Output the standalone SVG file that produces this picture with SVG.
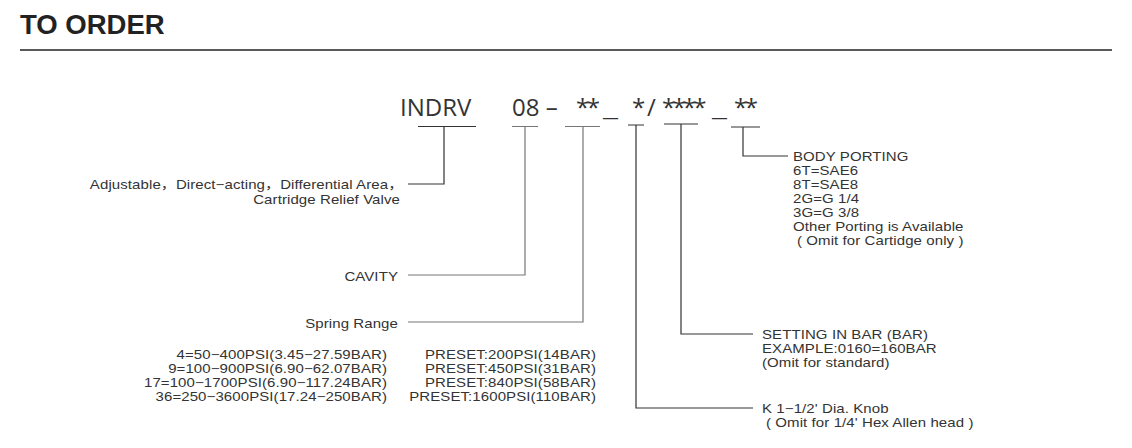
<svg xmlns="http://www.w3.org/2000/svg" width="1132" height="448" viewBox="0 0 1132 448">
<style>
.t{font-family:"Liberation Sans","Noto Sans CJK SC",Arial,sans-serif;font-size:12.5px;letter-spacing:0.08px;fill:#333}
.e{text-anchor:end}
.h{font-family:"Open Sans","Noto Sans",sans-serif;font-size:24px;fill:#333}
.ln{fill:none;stroke:#333;stroke-width:1.2}
.lg{fill:none;stroke:#777;stroke-width:1.2}
</style>
<rect width="1132" height="448" fill="#fff"/>
<g id="title">
<text x="20" y="34" font-family="Liberation Sans, Arial, sans-serif" font-weight="bold" font-size="27.5" fill="#222">TO ORDER</text>
<path d="M20 50H1112" stroke="#222" stroke-width="1.4" fill="none"/>
</g>
<g id="code">
<text class="h" x="400" y="116">INDRV</text>
<text class="h" x="512" y="116">08 –</text>
<text class="h" x="576" y="116" letter-spacing="-2.5">**</text>
<text class="h" x="603" y="116" textLength="15" lengthAdjust="spacingAndGlyphs">_</text>
<text class="h" x="632" y="116">*</text>
<text class="h" x="647" y="116">/</text>
<text class="h" x="662" y="116" letter-spacing="-2.8">****</text>
<text class="h" x="712" y="116" textLength="15" lengthAdjust="spacingAndGlyphs">_</text>
<text class="h" x="734" y="116" letter-spacing="-2.5">**</text>
</g>
<g id="connectors">
<path class="ln" d="M418 126.5H476M444 126.5V184H408"/>
<path class="lg" d="M512 126.5H538M525 126.5V275H408"/>
<path class="lg" d="M565 126.5H600M583 126.5V322H408"/>
<path class="ln" d="M628 125H644M636 125V408H753"/>
<path class="ln" d="M664 124H698M681 124V334H753"/>
<path class="ln" d="M731 127H760M743 127V156H788"/>
</g>
<g id="type" transform="matrix(1.2 0 0 1 -80 0)">
<text class="t e" x="404" y="189" transform="translate(-1.3 0)">Adjustable，Direct−acting，Differential Area，</text>
<text class="t e" x="400" y="204">Cartridge Relief Valve</text>
</g>
<g id="cavity" transform="matrix(1.2 0 0 1 -79.6 0)">
<text class="t e" x="398" y="281">CAVITY</text>
</g>
<g id="spring">
<text class="t e" x="398" y="328" transform="matrix(1.2 0 0 1 -79.6 0)">Spring Range</text>
<g transform="matrix(1.2 0 0 1 -77.4 0)">
<text class="t e" x="387" y="359">4=50−400PSI(3.45−27.59BAR)</text>
<text class="t e" x="387" y="373">9=100−900PSI(6.90−62.07BAR)</text>
<text class="t e" x="387" y="387">17=100−1700PSI(6.90−117.24BAR)</text>
<text class="t e" x="387" y="401">36=250−3600PSI(17.24−250BAR)</text>
</g>
<g transform="matrix(1.2 0 0 1 -119.2 0)">
<text class="t e" x="596" y="359">PRESET:200PSI(14BAR)</text>
<text class="t e" x="596" y="373">PRESET:450PSI(31BAR)</text>
<text class="t e" x="596" y="387">PRESET:840PSI(58BAR)</text>
<text class="t e" x="596" y="401">PRESET:1600PSI(110BAR)</text>
</g>
</g>
<g id="porting" transform="matrix(1.2 0 0 1 -158.6 0)">
<text class="t" x="793" y="161">BODY PORTING</text>
<text class="t" x="793" y="175">6T=SAE6</text>
<text class="t" x="793" y="189">8T=SAE8</text>
<text class="t" x="793" y="203">2G=G 1/4</text>
<text class="t" x="793" y="217">3G=G 3/8</text>
<text class="t" x="793" y="231">Other Porting is Available</text>
<text class="t" x="796.3" y="245">( Omit for Cartidge only )</text>
</g>
<g id="setting" transform="matrix(1.2 0 0 1 -152.4 0)">
<text class="t" x="762" y="339">SETTING IN BAR (BAR)</text>
<text class="t" x="762" y="353">EXAMPLE:0160=160BAR</text>
<text class="t" x="762" y="367">(Omit for standard)</text>
</g>
<g id="knob" transform="matrix(1.2 0 0 1 -152.4 0)">
<text class="t" x="762" y="413">K 1−1/2' Dia. Knob</text>
<text class="t" x="765.3" y="427">( Omit for 1/4' Hex Allen head )</text>
</g>
</svg>
